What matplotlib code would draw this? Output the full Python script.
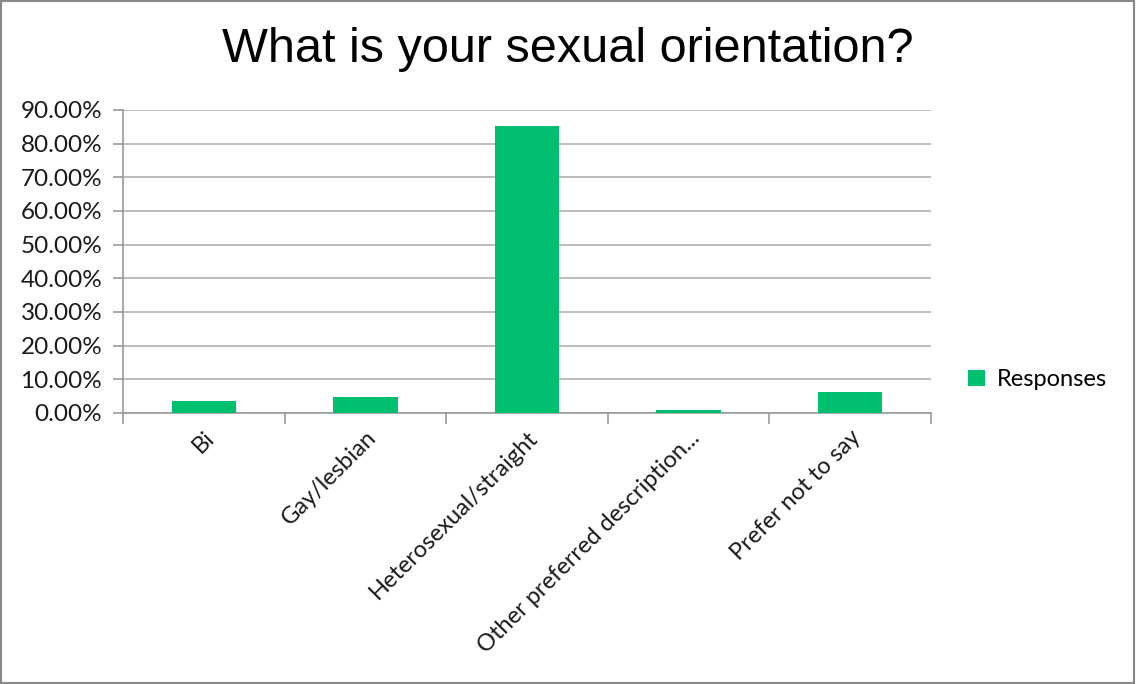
import matplotlib
matplotlib.use("Agg")
from matplotlib import pyplot as plt
from matplotlib.patches import Rectangle
import numpy as np

plt.rcParams['font.family'] = ['Lato', 'DejaVu Sans']

categories = ["Bi", "Gay/lesbian", "Heterosexual/straight",
              "Other preferred description...", "Prefer not to say"]
responses = [3.5, 4.65, 85.3, 0.85, 6.2]
yticks = [0, 10, 20, 30, 40, 50, 60, 70, 80, 90]

green = "#00BF6F"
txt = "#1a1a1a"

fig = plt.figure(figsize=(11.36, 6.84), dpi=100)
ax = fig.add_axes([0.1083, 0.3962, 0.7112, 0.443])

x = np.arange(len(categories))
ax.bar(x, responses, width=0.4, color=green, label="Responses", zorder=3)

ax.set_xlim(-0.5, len(categories) - 0.5)
ax.set_ylim(0, 90)
ax.set_yticks(yticks)
ax.set_yticklabels([f"{v:.2f}%" for v in yticks], fontsize=17.5, color=txt)
ax.yaxis.grid(True, color="#b0b0b0", linewidth=1.2, zorder=0)

# category labels
ax.set_xticks(x)
ax.set_xticklabels(categories, rotation=45, ha="right", rotation_mode="anchor",
                   fontsize=17, color=txt)
ax.tick_params(axis="x", length=0, pad=10)
# ticks between categories
ax.set_xticks(np.arange(-0.5, len(categories)), minor=True)
ax.tick_params(axis="x", which="minor", length=8, color="#999999", width=1.2)
ax.tick_params(axis="y", length=7, color="#999999", width=1.2, pad=8)

for s in ["top", "right"]:
    ax.spines[s].set_visible(False)
ax.spines["left"].set_color("#999999")
ax.spines["bottom"].set_color("#999999")
ax.spines["left"].set_linewidth(1.2)
ax.spines["bottom"].set_linewidth(1.2)

fig.text(0.5, 0.928, "What is your sexual orientation?", ha="center", va="center",
         fontsize=35, color="black", family="Liberation Sans")

ax.legend(loc="center left", bbox_to_anchor=(1.02, 0.11), frameon=False,
          fontsize=17, handlelength=0.7, handleheight=0.7, handletextpad=0.5)

fig.patches.append(Rectangle((0.001, 0.001), 0.997, 0.997, transform=fig.transFigure,
                             fill=False, edgecolor="#888888", linewidth=1.5))

fig.savefig("out.png", dpi=100)
